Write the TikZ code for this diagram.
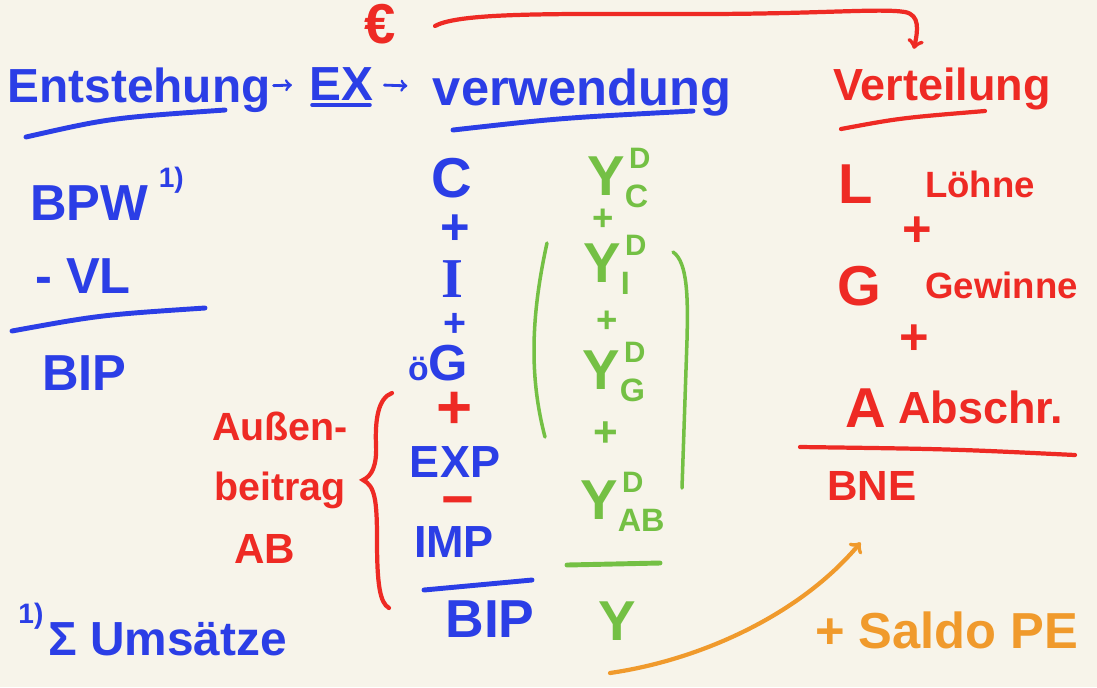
\documentclass[tikz,border=0pt]{standalone}
\usepackage{fontspec}
\setmainfont{Liberation Sans}
\newfontfamily\serifI{Liberation Serif}
\usetikzlibrary{arrows,positioning}
\definecolor{paper}{HTML}{F7F4EA}
\definecolor{penblue}{HTML}{2B3EE6}
\definecolor{penred}{HTML}{EE2A24}
\definecolor{pengreen}{HTML}{74C044}
\definecolor{penorange}{HTML}{F09A2C}
\newcommand{\yD}[1]{Y\rlap{\kern3pt\raisebox{19pt}{\fontsize{21}{21}\selectfont D}}\raisebox{-9pt}{\fontsize{23}{23}\selectfont #1}}

\begin{document}
\begin{tikzpicture}[x=0.025cm, y=-0.025cm,
  sz/.style={font=\bfseries\fontsize{#1}{#1}\selectfont},
  bword/.style={text=penblue, inner sep=0pt, anchor=base},
  rword/.style={text=penred, inner sep=0pt, anchor=base},
  gword/.style={text=pengreen, inner sep=0pt, anchor=base},
  oword/.style={text=penorange, inner sep=0pt, anchor=base},
  bline/.style={draw=penblue, line width=3.5pt, line cap=round},
  rline/.style={draw=penred, line width=3pt, line cap=round},
  gline/.style={draw=pengreen, line width=2.5pt, line cap=round},
  oline/.style={draw=penorange, line width=3pt, line cap=round}]
  \fill[paper] (0,0) rectangle (1097,687);
  \useasboundingbox (0,0) rectangle (1097,687);

  % headline
  \node[rword, sz=40, anchor=center] (euro) at (380,24) {€};
  \node[bword, sz=34] (ents) at (139,102) {Entstehung};
  \node[bword, sz=34] (ex) at (341,100) {EX};
  \node[bword, sz=36] (verw) at (582,105) {verwendung};
  \node[rword, sz=32] (vert) at (942,100) {Verteilung};
  \draw[bline, line width=2pt, ->, shorten <=2pt, shorten >=12pt] (ents) -- (ex);
  \draw[bline, line width=2pt, ->, shorten <=8pt, shorten >=18pt] (ex) -- (verw);
  \draw[rline, ->] (435,26) .. controls (460,12) and (560,14) .. (700,14)
     .. controls (820,14) and (880,8) .. (905,12)
     .. controls (920,15) and (918,30) .. ([xshift=-20pt,yshift=13pt]vert.north);
  \draw[bline] (26,137) .. controls (110,118) .. (225,110);
  \draw[bline, line width=2.5pt] (312,105) -- (370,105);
  \draw[bline] (453,130) .. controls (560,118) .. (693,111);
  \draw[rline] (841,129) .. controls (900,118) .. (985,111);

  % Entstehung
  \node[bword, sz=36, anchor=base west] (bpw) at (30,220) {BPW};
  \node[bword, sz=20] (bpwnote) [above right=-6pt and 7pt of bpw.north east] {1)};
  \node[bword, sz=36, anchor=base west] (vl) at (35,293) {- VL};
  \draw[bline] (12,331) .. controls (100,315) .. (205,308);
  \node[bword, sz=36, anchor=base west] (bipa) at (42,390) {BIP};

  % Verwendung
  \node[bword, sz=40] (c) at (452,197) {C};
  \node[bword, sz=36, anchor=center] (plusa) at (455,230) {+};
  \node[bword, sz=40] (i) at (452,297) {\serifI I};
  \node[bword, sz=28, anchor=center] (plusb) at (455,325) {+};
  \node[bword, sz=36] (oeg) at (438,380) {{\fontsize{24}{24}\selectfont ö}G};
  \node[rword, sz=44, anchor=center] (plusc) at (455,410) {+};
  \node[bword, sz=32] (exp) at (455,477) {EXP};
  \node[rword, sz=40, anchor=center] (minus) at (458,508) {−};
  \node[bword, sz=32] (imp) at (454,557) {IMP};
  \draw[bline] (424,590) -- (532,580);
  \node[bword, sz=38] (bipb) at (490,637) {BIP};

  % Einkommen
  \node[gword, sz=40, anchor=base west] (ydc) at (587,195) {\yD{C}};
  \node[gword, sz=26, anchor=center] (gplusa) at (603,220) {+};
  \node[gword, sz=40, anchor=base west] (ydi) at (583,282) {\yD{I}};
  \node[gword, sz=26, anchor=center] (gplusb) at (607,322) {+};
  \node[gword, sz=40, anchor=base west] (ydg) at (582,389) {\yD{G}};
  \node[gword, sz=30, anchor=center] (gplusc) at (606,434) {+};
  \node[gword, sz=40, anchor=base west] (ydab) at (580,519) {\yD{AB}};
  \draw[gline, line width=3.5pt] (567,565) -- (660,563);
  \node[gword, sz=40] (ytot) at (617,640) {Y};
  \draw[gline] (547,243) .. controls (530,320) and (530,380) .. (545,437);
  \draw[gline] (673,252) .. controls (688,262) and (688,300) .. (687,340) -- (682,488);

  % Aussenbeitrag
  \node[rword, sz=28] (aussen) at (280,440) {Außen-};
  \node[rword, sz=28] (beitrag) at (280,500) {beitrag};
  \node[rword, sz=30] (ab) at (265,563) {AB};
  \draw[rline] (392,393) .. controls (378,398) and (375,420) .. (376,445)
     .. controls (377,465) and (372,476) .. (363,480)
     .. controls (375,486) and (377,500) .. (377,540)
     .. controls (377,585) and (380,603) .. (389,608);

  % Verteilung
  \node[rword, sz=40, anchor=base west] (l) at (838,203) {L};
  \node[rword, sz=26, anchor=base west] (loehne) at (925,197) {Löhne};
  \node[rword, sz=36, anchor=center] (rplusa) at (917,232) {+};
  \node[rword, sz=40, anchor=base west] (g) at (837,305) {G};
  \node[rword, sz=26, anchor=base west] (gewinne) at (925,298) {Gewinne};
  \node[rword, sz=36, anchor=center] (rplusb) at (914,340) {+};
  \node[rword, sz=40, anchor=base west] (a) at (845,427) {A};
  \node[rword, sz=32, anchor=base west] (abschr) at (898,423) {Abschr.};
  \draw[rline] (800,447) .. controls (950,449) .. (1075,455);
  \node[rword, sz=30, anchor=base west] (bne) at (827,500) {BNE};

  % Saldo
  \node[oword, sz=36, anchor=base west] (saldo) at (815,648) {+ Saldo PE};
  \coordinate (otail) at (610,673);
  \draw[oline, ->] (otail) .. controls (700,660) and (800,615) .. ([xshift=-8pt,yshift=-30pt]bne.south);

  % Fussnote
  \node[bword, sz=34, anchor=base west] (umsaetze) at (48,655) {Σ Umsätze};
  \node[bword, sz=20] (sumnote) [above left=-6pt and 3pt of umsaetze.north west] {1)};
\end{tikzpicture}
\end{document}
